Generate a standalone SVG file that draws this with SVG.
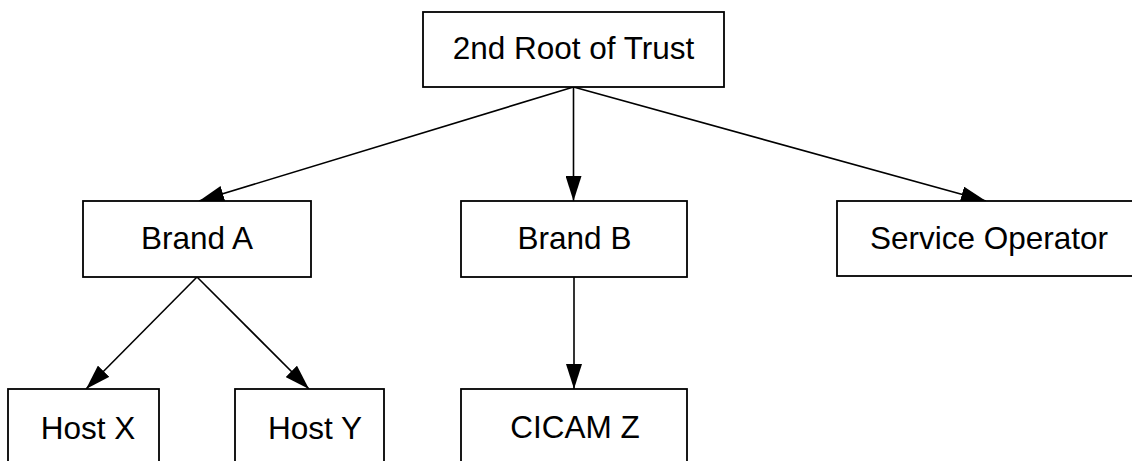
<svg xmlns="http://www.w3.org/2000/svg" width="1132" height="461" viewBox="0 0 1132 461">
<style>
  .box { fill: #ffffff; stroke: #000000; stroke-width: 1.8; }
  .lbl { font-family: "Liberation Sans", Arial, sans-serif; font-size: 31.5px; fill: #000000; text-anchor: middle; }
  .edge { stroke: #000000; stroke-width: 1.6; fill: none; marker-end: url(#arrow); }
</style>
<defs>
  <marker id="arrow" viewBox="0 0 25 16" refX="25" refY="8" markerWidth="25" markerHeight="16" markerUnits="userSpaceOnUse" orient="auto">
    <path d="M0,0 L25,8 L0,16 z" fill="#000000"/>
  </marker>
</defs>
<rect width="1132" height="461" fill="#ffffff"/>
<g id="connectors">
  <line class="edge" x1="573.5" y1="87" x2="199" y2="201"/>
  <line class="edge" x1="573.5" y1="87" x2="573.5" y2="201"/>
  <line class="edge" x1="573.5" y1="87" x2="986" y2="201"/>
  <line class="edge" x1="197" y1="277" x2="86" y2="389"/>
  <line class="edge" x1="197" y1="277" x2="309" y2="389"/>
  <line class="edge" x1="574" y1="277" x2="574" y2="389"/>
</g>
<g id="root">
  <rect class="box" x="423" y="12" width="301" height="75"/>
  <text class="lbl" x="573.5" y="59">2nd Root of Trust</text>
</g>
<g id="brandA">
  <rect class="box" x="83" y="201" width="228" height="76"/>
  <text class="lbl" x="197" y="249">Brand A</text>
</g>
<g id="brandB">
  <rect class="box" x="461" y="201" width="226" height="76"/>
  <text class="lbl" x="574.5" y="249">Brand B</text>
</g>
<g id="serviceOperator">
  <rect class="box" x="837" y="201" width="300" height="75"/>
  <text class="lbl" x="989" y="249">Service Operator</text>
</g>
<g id="hostX">
  <rect class="box" x="8" y="389" width="151" height="80"/>
  <text class="lbl" x="88" y="439">Host X</text>
</g>
<g id="hostY">
  <rect class="box" x="235" y="389" width="149" height="80"/>
  <text class="lbl" x="315" y="439">Host Y</text>
</g>
<g id="cicamZ">
  <rect class="box" x="461" y="389" width="226" height="80"/>
  <text class="lbl" x="575" y="438">CICAM Z</text>
</g>
</svg>
